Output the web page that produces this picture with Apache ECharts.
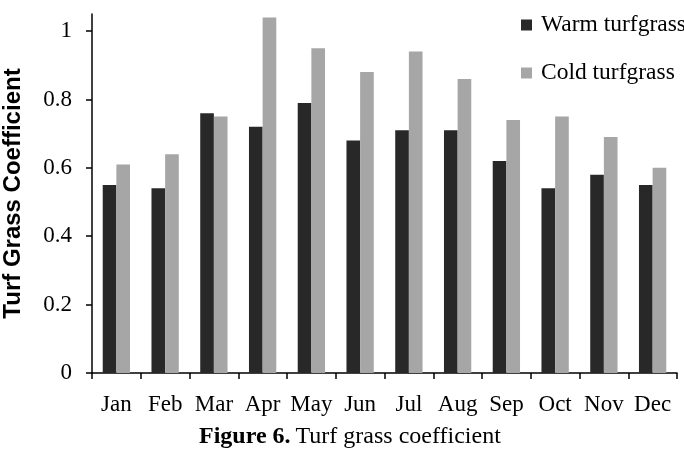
<!DOCTYPE html>
<html><head><meta charset="utf-8">
<script src="https://cdn.jsdelivr.net/npm/echarts@6/dist/echarts.min.js"></script>
<style>html,body{margin:0;padding:0;background:#fff}#c{width:684px;height:456px}</style>
</head><body><div id="c"></div>
<script>
const months = ['Jan','Feb','Mar','Apr','May','Jun','Jul','Aug','Sep','Oct','Nov','Dec'];
const warm = [0.55,0.54,0.76,0.72,0.79,0.68,0.71,0.71,0.62,0.54,0.58,0.55];
const cold = [0.61,0.64,0.75,1.04,0.95,0.88,0.94,0.86,0.74,0.75,0.69,0.60];
const seriesNames = ['Warm turfgrass','Cold turfgrass'];
const yTicks = {min:0, max:1.05, interval:0.2};

const serif = '"Liberation Serif", "Times New Roman", serif';
const chart = echarts.init(document.getElementById('c'), null, {renderer:'canvas'});
chart.setOption({
  animation:false,
  backgroundColor:'#fff',
  grid:{left:92, right:7, top:14, bottom:83, containLabel:false, outerBoundsMode:'none'},
  title:{
    text:'{b|Figure 6.} {n|Turf grass coefficient}',
    left:199, top:425, padding:0,
    textStyle:{fontWeight:'normal', rich:{
      b:{fontFamily:serif, fontWeight:'bold', fontSize:24, color:'#000'},
      n:{fontFamily:serif, fontWeight:'normal', fontSize:24, color:'#000'}
    }}
  },
  legend:{
    orient:'vertical', left:521, top:13, padding:0,
    itemWidth:11, itemHeight:11, itemGap:24,
    icon:'rect',
    textStyle:{fontFamily:serif, fontSize:23.5, color:'#000', padding:[0,0,0,4]},
    data:seriesNames
  },
  xAxis:{
    type:'category', data:months,
    axisLine:{lineStyle:{color:'#000', width:1.5}},
    axisTick:{show:true, interval:0, length:6, lineStyle:{color:'#000', width:1.5}},
    axisLabel:{fontFamily:serif, fontSize:23, color:'#000', margin:20, interval:0}
  },
  yAxis:{
    type:'value', min:yTicks.min, max:yTicks.max, interval:yTicks.interval,
    name:'Turf Grass Coefficient', nameLocation:'middle', nameGap:67,
    nameTextStyle:{fontFamily:'"Liberation Sans", Arial, sans-serif', fontWeight:'bold', fontSize:24, color:'#000'},
    axisLine:{show:true, lineStyle:{color:'#000', width:1.5}},
    axisTick:{show:true, length:6, lineStyle:{color:'#000', width:1.5}},
    splitLine:{show:false},
    axisLabel:{fontFamily:serif, fontSize:23, color:'#000', margin:20, showMaxLabel:false}
  },
  series:[
    {name:seriesNames[0], type:'bar', data:warm, barGap:'0%', barCategoryGap:'44%', itemStyle:{color:'#282828'}},
    {name:seriesNames[1], type:'bar', data:cold, barGap:'0%', barCategoryGap:'44%', itemStyle:{color:'#a6a6a6'}}
  ]
});
</script></body></html>
